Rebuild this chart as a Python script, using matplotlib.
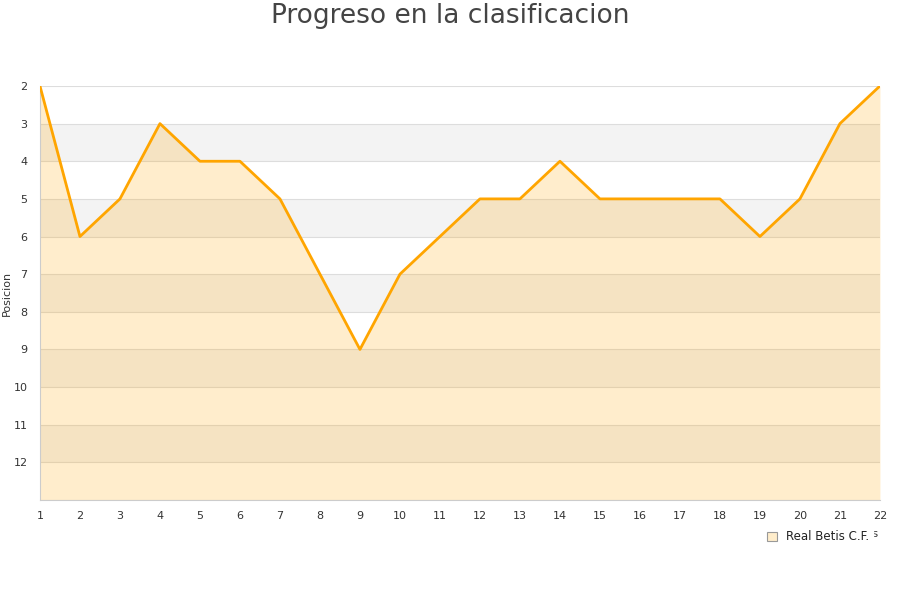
import matplotlib.pyplot as plt
from matplotlib.patches import Patch

jornadas = list(range(1, 23))
posicion = [2, 6, 5, 3, 4, 4, 5, 7, 9, 7, 6, 5, 5, 4, 5, 5, 5, 5, 6, 5, 3, 2]
y_ticks = list(range(2, 13))
equipo = 'Real Betis C.F.'

fig = plt.figure(figsize=(9, 6), dpi=100)
ax = fig.add_axes([0.0444, 0.1667, 0.9333, 0.69])

# alternating bands
for y0 in range(3, 13, 2):
    ax.axhspan(y0, y0 + 1, color='#f3f3f3', zorder=0, lw=0)
for y in range(2, 14):
    ax.axhline(y, color='#dddddd', lw=0.8, zorder=1)

ax.fill_between(jornadas, posicion, 13, color='#ffa500', alpha=0.2, lw=0, zorder=2)
ax.plot(jornadas, posicion, color='#ffa500', lw=2.0, zorder=3)

ax.set_xlim(1, 22)
ax.set_ylim(13, 2)
ax.set_xticks(jornadas)
ax.set_yticks(y_ticks)
ax.tick_params(axis='both', length=0, labelsize=8, colors='#333333', pad=8)
ax.tick_params(axis='y', pad=9)
for s in ['top', 'right']:
    ax.spines[s].set_visible(False)
for s in ['left', 'bottom']:
    ax.spines[s].set_color('#cccccc')
ax.set_ylabel('Posicion', fontsize=8, color='#333333')
ax.yaxis.set_label_coords(-0.034, 0.5)
ax.set_xlabel('Jornadas', fontsize=8, color='#333333')
ax.xaxis.set_label_coords(0.97, -0.07)

fig.suptitle('Progreso en la clasificacion', fontsize=19, color='#444444', y=0.995)

leg = fig.legend(handles=[Patch(facecolor='#ffedcb', edgecolor='#999999', lw=0.8, label=equipo)],
                 loc='center left', bbox_to_anchor=(0.842, 0.105), frameon=True,
                 fontsize=8.5, handlelength=0.8, handleheight=0.8, borderpad=0.3)
leg.get_frame().set_edgecolor('white')
leg.get_frame().set_facecolor('white')
leg.get_frame().set_alpha(1)
for t in leg.get_texts():
    t.set_color('#222222')

fig.savefig('out.png', dpi=100)
